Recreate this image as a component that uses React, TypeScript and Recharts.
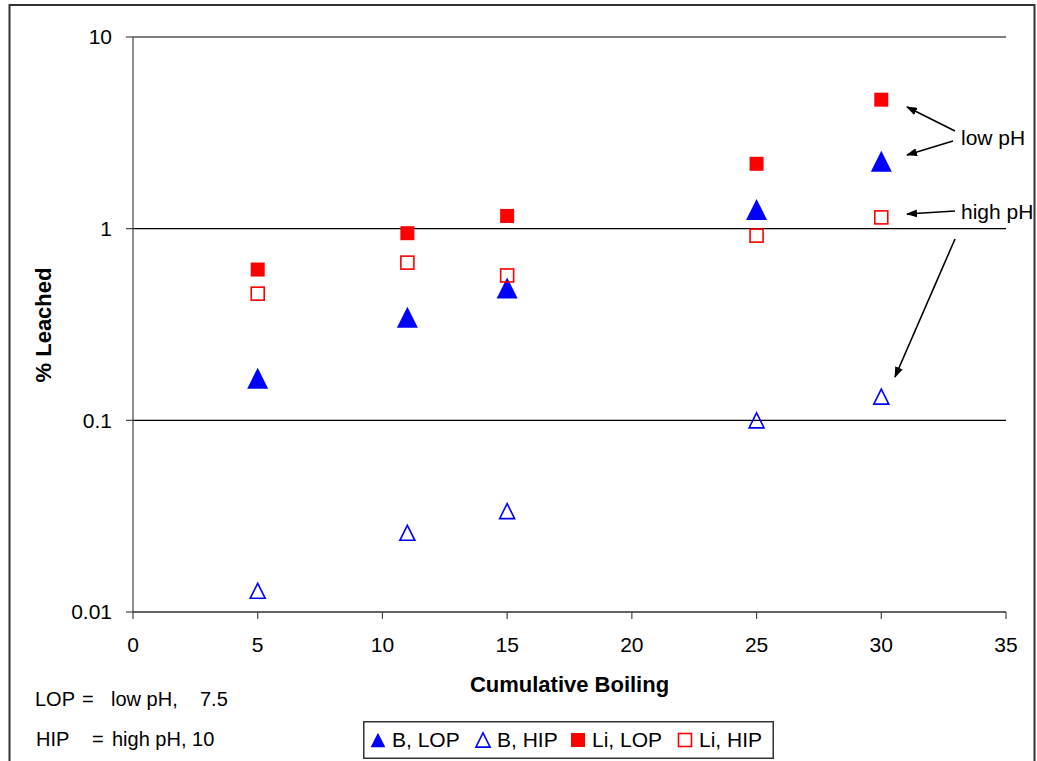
import React from 'react';
import { ScatterChart, Scatter, XAxis, YAxis, CartesianGrid, Legend } from 'recharts';

// cumulative boiling cycles and % leached per element / pH condition
const boilCycles = [5, 11, 15, 25, 30];
const boronLowPh = [0.166, 0.345, 0.49, 1.26, 2.25];
const boronHighPh = [0.0129, 0.0259, 0.0336, 0.1, 0.133];
const lithiumLowPh = [0.612, 0.947, 1.165, 2.18, 4.71];
const lithiumHighPh = [0.458, 0.665, 0.57, 0.92, 1.145];

const xTicks = [0, 5, 10, 15, 20, 25, 30, 35];
const yTicks = [0.01, 0.1, 1, 10];

const FONT = '"Liberation Sans", Arial, sans-serif';
const BLUE = '#0000FF';
const RED = '#FF0000';

const toPoints = (ys: number[]) => boilCycles.map((x, i) => ({ x, y: ys[i] }));

type MarkerKind = 'triFilled' | 'triOpen' | 'sqFilled' | 'sqOpen';

const Marker = ({ kind, cx, cy, scale = 1 }: { kind: MarkerKind; cx: number; cy: number; scale?: number }) => {
  if (kind === 'triFilled') {
    const h = 10.5 * scale;
    return <polygon points={`${cx},${cy - h} ${cx + h},${cy + h} ${cx - h},${cy + h}`} fill={BLUE} />;
  }
  if (kind === 'triOpen') {
    const h = 7.5 * scale;
    return (
      <polygon
        points={`${cx},${cy - h} ${cx + h},${cy + h} ${cx - h},${cy + h}`}
        fill="none"
        stroke={BLUE}
        strokeWidth={1.6}
      />
    );
  }
  if (kind === 'sqFilled') {
    const h = 7 * scale;
    return <rect x={cx - h} y={cy - h} width={2 * h} height={2 * h} fill={RED} />;
  }
  const h = 6.5 * scale;
  return <rect x={cx - h} y={cy - h} width={2 * h} height={2 * h} fill="none" stroke={RED} strokeWidth={1.6} />;
};

const series: { name: string; kind: MarkerKind; color: string; values: number[] }[] = [
  { name: 'B, LOP', kind: 'triFilled', color: BLUE, values: boronLowPh },
  { name: 'B, HIP', kind: 'triOpen', color: BLUE, values: boronHighPh },
  { name: 'Li, LOP', kind: 'sqFilled', color: RED, values: lithiumLowPh },
  { name: 'Li, HIP', kind: 'sqOpen', color: RED, values: lithiumHighPh },
];

// x offsets of each legend entry inside the legend box
const legendOffsets = [15, 120, 215, 322];

const LegendBox = () => (
  <svg width={411} height={38} style={{ display: 'block' }}>
    <rect x={0.75} y={0.75} width={409.5} height={36.5} fill="#fff" stroke="#333" strokeWidth={1.5} />
    {series.map((s, i) => (
      <g key={s.name}>
        <Marker kind={s.kind} cx={legendOffsets[i]} cy={19} scale={s.kind === 'triFilled' ? 0.7 : s.kind === 'triOpen' ? 0.95 : 1} />
        <text x={legendOffsets[i] + 14} y={26} fontSize={21} fontFamily={FONT} fill="#000">
          {s.name}
        </text>
      </g>
    ))}
  </svg>
);

const Arrow = ({ x1, y1, x2, y2 }: { x1: number; y1: number; x2: number; y2: number }) => (
  <line x1={x1} y1={y1} x2={x2} y2={y2} stroke="#000" strokeWidth={1.6} markerEnd="url(#arrowHead)" />
);

const App = () => {
  return (
    <div style={{ position: 'absolute', left: 0, top: 0, width: 1037, height: 761, background: '#fff', fontFamily: FONT }}>
      <ScatterChart width={1037} height={761} margin={{ top: 37, right: 31, bottom: 119, left: 13 }}>
        <CartesianGrid vertical={false} stroke="#000" strokeWidth={1.2} />
        <XAxis
          type="number"
          dataKey="x"
          domain={[0, 35]}
          ticks={xTicks}
          height={30}
          tickSize={7}
          tickMargin={18}
          axisLine={{ stroke: '#444', strokeWidth: 1.2 }}
          tickLine={{ stroke: '#444', strokeWidth: 1.2 }}
          tick={{ fill: '#000', fontSize: 21, fontFamily: FONT }}
        />
        <YAxis
          type="number"
          dataKey="y"
          scale="log"
          domain={[0.01, 10]}
          ticks={yTicks}
          allowDataOverflow
          width={120}
          tickSize={7}
          tickMargin={14}
          axisLine={{ stroke: '#444', strokeWidth: 1.2 }}
          tickLine={{ stroke: '#444', strokeWidth: 1.2 }}
          tick={{ fill: '#000', fontSize: 21, fontFamily: FONT }}
          tickFormatter={(v: number) => String(v)}
        />
        {series.map((s) => (
          <Scatter
            key={s.name}
            name={s.name}
            data={toPoints(s.values)}
            fill={s.color}
            isAnimationActive={false}
            shape={(p: any) => <Marker kind={s.kind} cx={p.cx} cy={p.cy} />}
          />
        ))}
        <Legend
          layout="horizontal"
          verticalAlign="middle"
          align="center"
          wrapperStyle={{ left: 363, top: 721, width: 411, height: 38, bottom: 'auto' }}
          content={() => <LegendBox />}
        />
      </ScatterChart>

      <svg
        width={1037}
        height={761}
        style={{ position: 'absolute', left: 0, top: 0, pointerEvents: 'none' }}
        fontFamily={FONT}
      >
        <defs>
          <marker id="arrowHead" markerWidth={11} markerHeight={8} refX={10} refY={4} orient="auto" markerUnits="userSpaceOnUse">
            <path d="M0,0 L11,4 L0,8 z" fill="#000" />
          </marker>
        </defs>
        <rect x={9.5} y={5} width={1025} height={800} fill="none" stroke="#333" strokeWidth={2} />

        <text transform="translate(51,325) rotate(-90)" textAnchor="middle" fontSize={22} fontWeight="bold" fill="#000">
          % Leached
        </text>
        <text x={569.5} y={692} textAnchor="middle" fontSize={22} fontWeight="bold" fill="#000">
          Cumulative Boiling
        </text>

        <g fontSize={20} fill="#000">
          <text x={35} y={706}>LOP</text>
          <text x={82} y={706}>=</text>
          <text x={111} y={706}>low pH,</text>
          <text x={200} y={706}>7.5</text>
          <text x={36} y={746}>HIP</text>
          <text x={92} y={746}>=</text>
          <text x={112} y={746}>high pH, 10</text>
        </g>

        <text x={961} y={145} fontSize={21} fill="#000">low pH</text>
        <text x={961} y={219} fontSize={21} fill="#000">high pH</text>
        <Arrow x1={955} y1={131} x2={907} y2={107} />
        <Arrow x1={953} y1={141} x2={907} y2={155} />
        <Arrow x1={955} y1={211} x2={907} y2={214} />
        <Arrow x1={955} y1={239} x2={895} y2={377} />
      </svg>
    </div>
  );
};

export default App;
